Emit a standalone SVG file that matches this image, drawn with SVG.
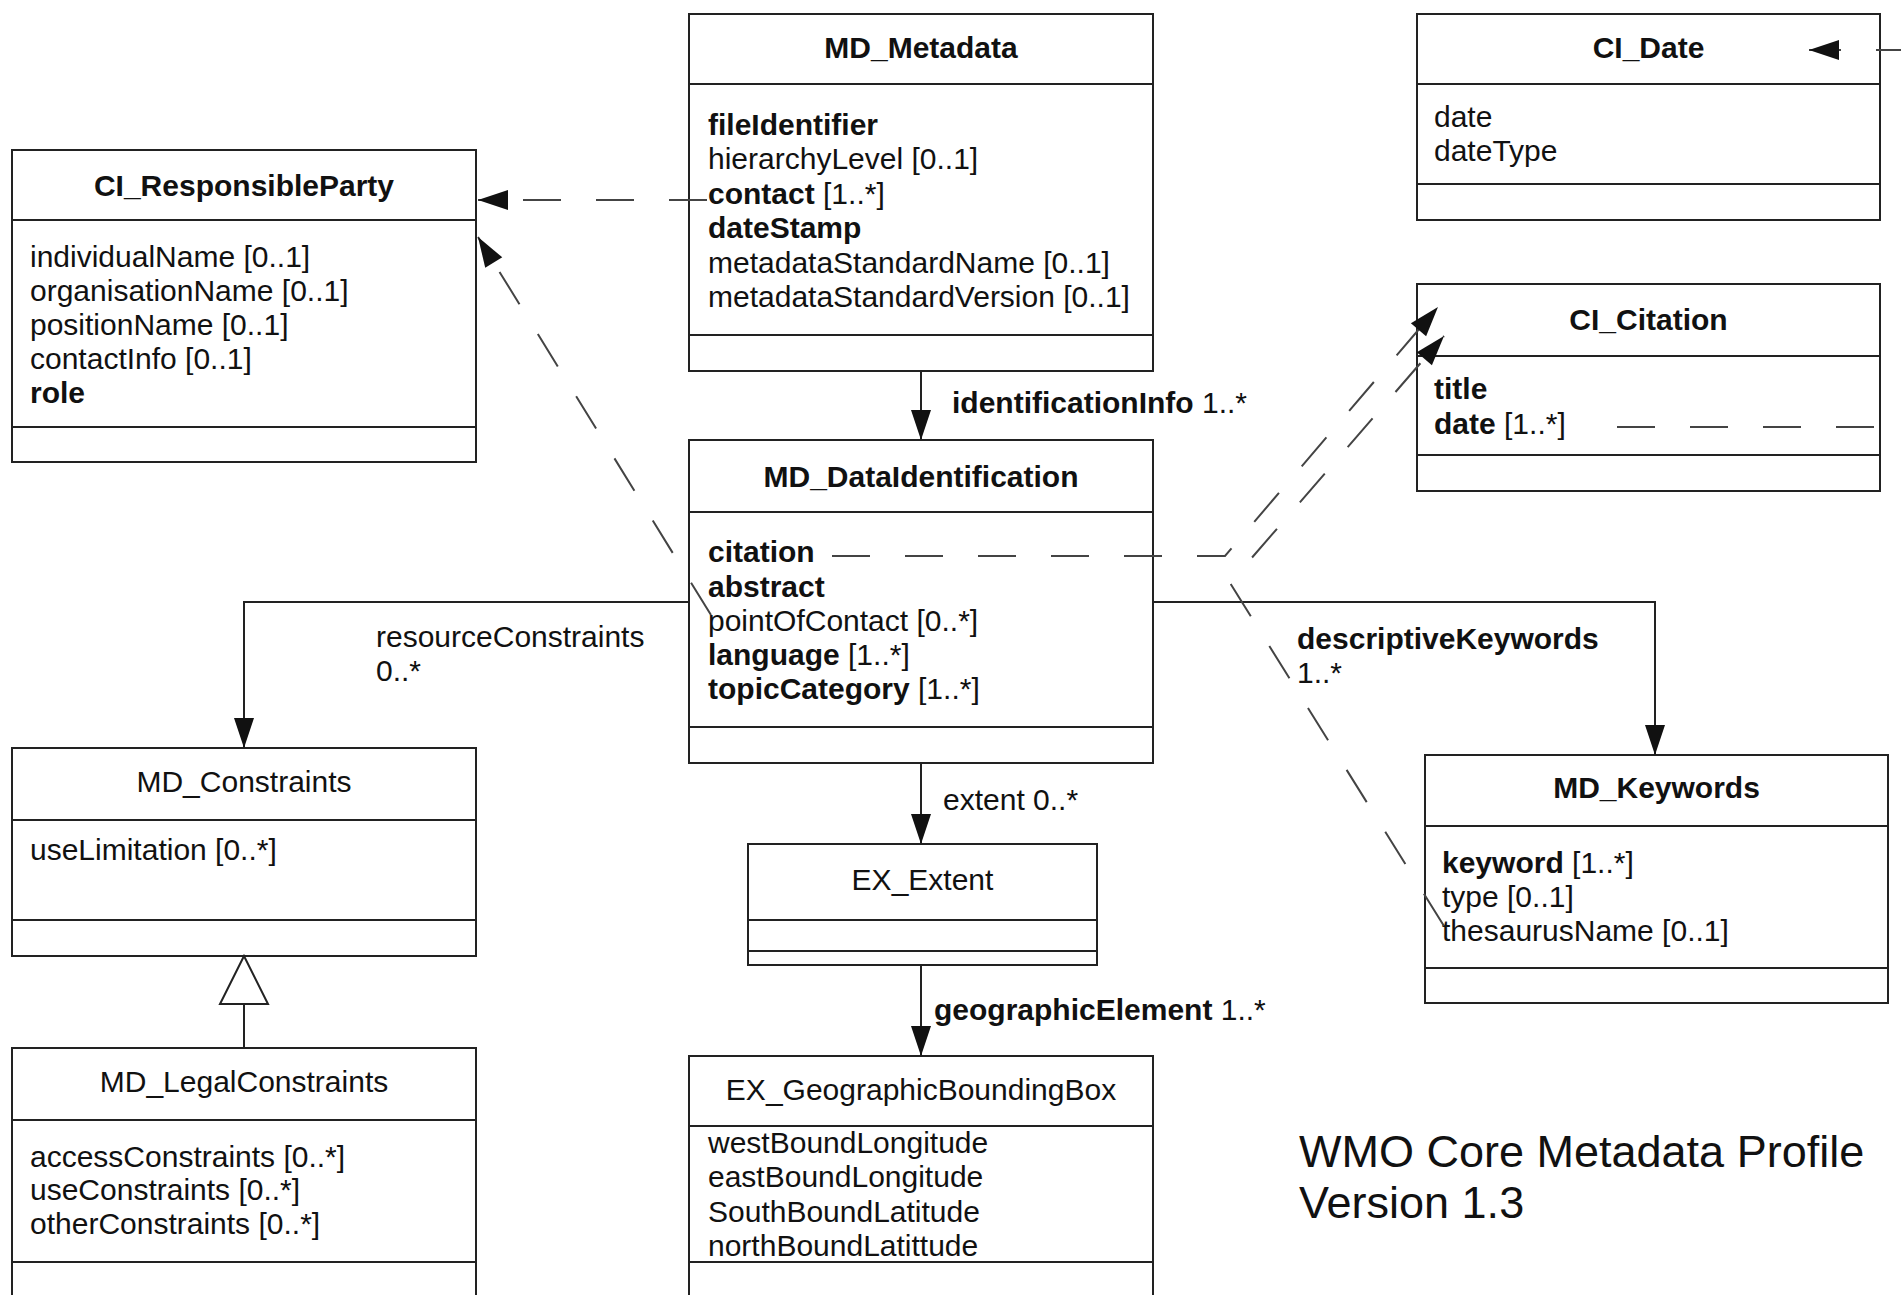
<svg xmlns="http://www.w3.org/2000/svg" width="1901" height="1295" viewBox="0 0 1901 1295">
<defs>
<style>
.box{fill:#fff;stroke:#222;stroke-width:2}
.sep{stroke:#222;stroke-width:2}
.t{font-family:"Liberation Sans",Arial,sans-serif;font-size:30px;fill:#111}
.b{font-weight:bold}
.c{text-anchor:middle}
.ln{fill:none;stroke:#222;stroke-width:2}
.dash{stroke:#444;stroke-dasharray:38 35}
.big{font-family:"Liberation Sans",Arial,sans-serif;font-size:45px;fill:#111}
</style>
<marker id="arr" markerUnits="userSpaceOnUse" markerWidth="31" markerHeight="21" refX="30" refY="10" orient="auto" overflow="visible">
<path d="M0,0 L30,10 L0,20 z" fill="#111" stroke="none"/>
</marker>
</defs>
<rect width="1901" height="1295" fill="#fff"/>

<g id="CI_ResponsibleParty">
<rect class="box" x="12" y="150" width="464" height="312"/>
<line class="sep" x1="12" y1="220" x2="476" y2="220"/>
<line class="sep" x1="12" y1="427" x2="476" y2="427"/>
<text class="t b c" x="244" y="196">CI_ResponsibleParty</text>
<text class="t" x="30" y="267">individualName [0..1]</text>
<text class="t" x="30" y="301">organisationName [0..1]</text>
<text class="t" x="30" y="335">positionName [0..1]</text>
<text class="t" x="30" y="369">contactInfo [0..1]</text>
<text class="t b" x="30" y="403">role</text>
</g>

<g id="MD_Metadata">
<rect class="box" x="689" y="14" width="464" height="357"/>
<line class="sep" x1="689" y1="84" x2="1153" y2="84"/>
<line class="sep" x1="689" y1="335" x2="1153" y2="335"/>
<text class="t b c" x="921" y="58">MD_Metadata</text>
<text class="t b" x="708" y="135">fileIdentifier</text>
<text class="t" x="708" y="169">hierarchyLevel [0..1]</text>
<text class="t" x="708" y="204"><tspan class="b">contact</tspan> [1..*]</text>
<text class="t b" x="708" y="238">dateStamp</text>
<text class="t" x="708" y="273">metadataStandardName [0..1]</text>
<text class="t" x="708" y="307">metadataStandardVersion [0..1]</text>
</g>

<g id="MD_DataIdentification">
<rect class="box" x="689" y="440" width="464" height="323"/>
<line class="sep" x1="689" y1="512" x2="1153" y2="512"/>
<line class="sep" x1="689" y1="727" x2="1153" y2="727"/>
<text class="t b c" x="921" y="487">MD_DataIdentification</text>
<text class="t b" x="708" y="562">citation</text>
<text class="t b" x="708" y="597">abstract</text>
<text class="t" x="708" y="631">pointOfContact [0..*]</text>
<text class="t" x="708" y="665"><tspan class="b">language</tspan> [1..*]</text>
<text class="t" x="708" y="699"><tspan class="b">topicCategory</tspan> [1..*]</text>
</g>

<g id="CI_Date">
<rect class="box" x="1417" y="14" width="463" height="206"/>
<line class="sep" x1="1417" y1="84" x2="1880" y2="84"/>
<line class="sep" x1="1417" y1="184" x2="1880" y2="184"/>
<text class="t b c" x="1648.5" y="58">CI_Date</text>
<text class="t" x="1434" y="127">date</text>
<text class="t" x="1434" y="161">dateType</text>
</g>

<g id="CI_Citation">
<rect class="box" x="1417" y="284" width="463" height="207"/>
<line class="sep" x1="1417" y1="356" x2="1880" y2="356"/>
<line class="sep" x1="1417" y1="455" x2="1880" y2="455"/>
<text class="t b c" x="1648.5" y="330">CI_Citation</text>
<text class="t b" x="1434" y="399">title</text>
<text class="t" x="1434" y="434"><tspan class="b">date</tspan> [1..*]</text>
</g>

<g id="MD_Keywords">
<rect class="box" x="1425" y="755" width="463" height="248"/>
<line class="sep" x1="1425" y1="826" x2="1888" y2="826"/>
<line class="sep" x1="1425" y1="968" x2="1888" y2="968"/>
<text class="t b c" x="1656.5" y="798">MD_Keywords</text>
<text class="t" x="1442" y="873"><tspan class="b">keyword</tspan> [1..*]</text>
<text class="t" x="1442" y="907">type [0..1]</text>
<text class="t" x="1442" y="941">thesaurusName [0..1]</text>
</g>

<g id="MD_Constraints">
<rect class="box" x="12" y="748" width="464" height="208"/>
<line class="sep" x1="12" y1="820" x2="476" y2="820"/>
<line class="sep" x1="12" y1="920" x2="476" y2="920"/>
<text class="t c" x="244" y="792">MD_Constraints</text>
<text class="t" x="30" y="860">useLimitation [0..*]</text>
</g>

<g id="MD_LegalConstraints">
<rect class="box" x="12" y="1048" width="464" height="262"/>
<line class="sep" x1="12" y1="1120" x2="476" y2="1120"/>
<line class="sep" x1="12" y1="1262" x2="476" y2="1262"/>
<text class="t c" x="244" y="1092">MD_LegalConstraints</text>
<text class="t" x="30" y="1167">accessConstraints [0..*]</text>
<text class="t" x="30" y="1200">useConstraints [0..*]</text>
<text class="t" x="30" y="1234">otherConstraints [0..*]</text>
</g>

<g id="EX_Extent">
<rect class="box" x="748" y="844" width="349" height="121"/>
<line class="sep" x1="748" y1="920" x2="1097" y2="920"/>
<line class="sep" x1="748" y1="951" x2="1097" y2="951"/>
<text class="t c" x="922.5" y="890">EX_Extent</text>
</g>

<g id="EX_GeographicBoundingBox">
<rect class="box" x="689" y="1056" width="464" height="254"/>
<line class="sep" x1="689" y1="1126" x2="1153" y2="1126"/>
<line class="sep" x1="689" y1="1262" x2="1153" y2="1262"/>
<text class="t c" x="921" y="1100">EX_GeographicBoundingBox</text>
<text class="t" x="708" y="1153">westBoundLongitude</text>
<text class="t" x="708" y="1187">eastBoundLongitude</text>
<text class="t" x="708" y="1222">SouthBoundLatitude</text>
<text class="t" x="708" y="1256">northBoundLatittude</text>
</g>

<g id="title">
<text class="big" x="1299" y="1167">WMO Core Metadata Profile</text>
<text class="big" x="1299" y="1218">Version 1.3</text>
</g>

<g id="connectors">
<path class="ln" d="M921,371 L921,440" marker-end="url(#arr)"/>
<path class="ln" d="M921,763 L921,844" marker-end="url(#arr)"/>
<path class="ln" d="M921,965 L921,1056" marker-end="url(#arr)"/>
<path class="ln" d="M689,602 L244,602 L244,748" marker-end="url(#arr)"/>
<path class="ln" d="M1153,602 L1655,602 L1655,755" marker-end="url(#arr)"/>
<path class="ln" d="M244,1048 L244,1004"/>
<polygon points="244,956 220,1004 268,1004" fill="#fff" stroke="#222" stroke-width="2"/>
<path class="ln dash" d="M707,200 L478,200" marker-end="url(#arr)"/>
<path class="ln dash" d="M711,615 L478,237" marker-end="url(#arr)"/>
<path class="ln dash" d="M832,556 L1225,556 L1438,307" marker-end="url(#arr)"/>
<path class="ln dash" d="M1444,926 L1230,583 L1444,336" marker-end="url(#arr)"/>
<path class="ln dash" d="M1617,427 L1901,427"/>
<path class="ln dash" d="M1901,50 L1809,50" stroke-dashoffset="13" marker-end="url(#arr)"/>
<text class="t" x="952" y="413"><tspan class="b">identificationInfo</tspan> 1..*</text>
<text class="t" x="943" y="810">extent 0..*</text>
<text class="t" x="934" y="1020"><tspan class="b">geographicElement</tspan> 1..*</text>
<text class="t" x="376" y="647">resourceConstraints</text>
<text class="t" x="376" y="681">0..*</text>
<text class="t b" x="1297" y="649">descriptiveKeywords</text>
<text class="t" x="1297" y="683">1..*</text>
</g>
</svg>
